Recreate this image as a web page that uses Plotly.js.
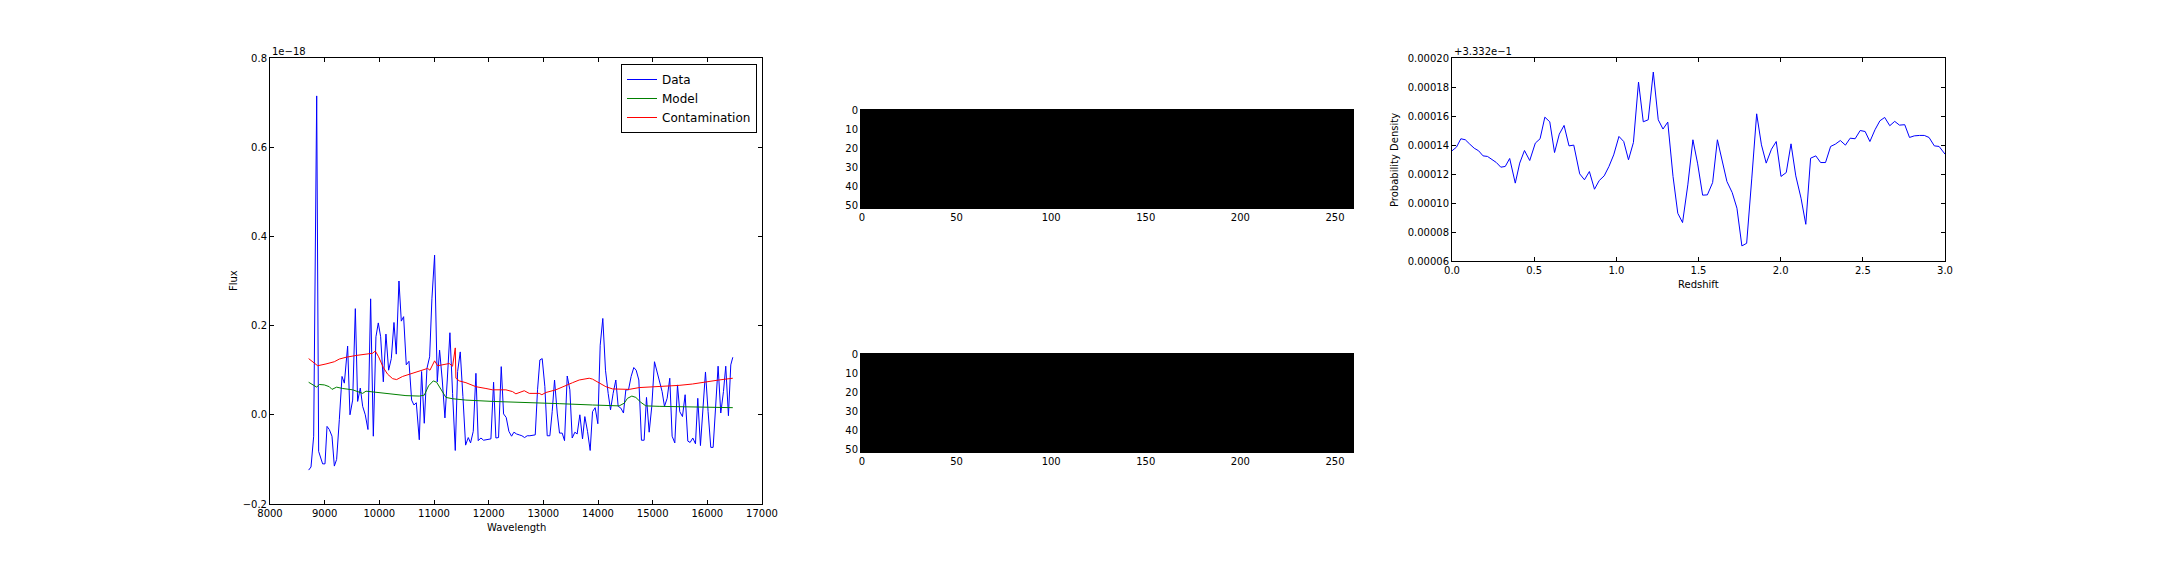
<!DOCTYPE html>
<html>
<head>
<meta charset="utf-8">
<script src="https://cdn.plot.ly/plotly-3.0.1.min.js"></script>
<style>html,body{margin:0;padding:0;background:#fff;}#chart{width:2160px;height:576px;}</style>
</head>
<body>
<div id="chart"></div>
<script>
// ---- Left panel: spectrum (flux in units of 1e-18) ----
const dataWave = [8707,8750,8799,8854,8890,8939,8963,9006,9043,9085,9134,9177,9219,9268,9317,9360,9420,9463,9512,9561,9603,9652,9695,9743,9792,9841,9890,9938,9981,10024,10073,10121,10170,10219,10268,10310,10359,10402,10444,10493,10542,10591,10633,10676,10731,10773,10822,10871,10920,10962,11011,11060,11102,11151,11200,11243,11291,11340,11389,11432,11480,11529,11578,11627,11669,11718,11767,11809,11858,11907,11950,11998,12041,12090,12132,12181,12230,12273,12321,12370,12419,12462,12510,12559,12608,12657,12705,12754,12803,12852,12894,12937,12979,13028,13071,13120,13162,13205,13254,13296,13345,13388,13437,13485,13528,13577,13619,13668,13717,13759,13808,13857,13900,13948,13997,14040,14088,14137,14186,14229,14277,14326,14369,14418,14466,14509,14558,14606,14655,14698,14747,14795,14844,14887,14936,14984,15033,15076,15124,15173,15216,15265,15313,15356,15405,15454,15496,15545,15594,15643,15685,15734,15783,15825,15874,15923,15966,16014,16063,16106,16155,16197,16246,16295,16337,16386,16429,16466];
const dataFlux = [-0.124,-0.117,-0.048,0.715,-0.082,-0.100,-0.110,-0.110,-0.026,-0.033,-0.048,-0.115,-0.100,-0.011,0.086,0.071,0.154,0.000,0.033,0.238,0.030,0.060,0.019,0.000,-0.033,0.260,-0.048,0.175,0.206,0.175,0.074,0.181,0.100,0.126,0.207,0.136,0.300,0.210,0.220,0.112,0.120,0.033,0.022,0.027,-0.056,0.097,-0.019,0.104,0.130,0.260,0.358,0.074,0.145,0.078,-0.007,0.078,0.184,0.048,-0.080,0.097,0.141,0.041,-0.068,-0.051,-0.063,-0.037,0.093,-0.058,-0.052,-0.057,-0.056,-0.056,-0.054,0.073,-0.052,-0.051,0.108,0.002,-0.006,-0.037,-0.048,-0.039,-0.043,-0.045,-0.047,-0.051,-0.047,-0.047,-0.046,-0.045,0.056,0.123,0.126,0.063,-0.047,-0.047,0.007,0.078,0.004,-0.041,-0.041,-0.058,0.087,0.056,-0.052,-0.039,-0.043,0.000,-0.054,-0.004,-0.037,-0.080,0.007,0.016,-0.020,0.156,0.216,0.100,0.048,0.011,0.048,0.078,0.019,0.015,0.004,0.056,0.056,0.086,0.106,0.100,0.078,-0.057,-0.057,0.039,-0.039,0.019,0.119,0.100,0.078,0.052,0.019,0.037,0.082,-0.048,-0.063,0.067,0.007,-0.004,0.045,-0.059,-0.062,-0.052,-0.065,0.037,-0.069,0.020,0.096,0.007,-0.073,-0.073,0.026,0.109,0.004,0.052,0.109,-0.002,0.112,0.129];

const modelWave = [8707,8780,8854,8902,8994,9085,9134,9219,9329,9512,9634,9695,9756,10000,10243,10487,10731,10822,10901,10987,11048,11127,11218,11340,11584,12071,12681,13290,13900,14387,14479,14540,14619,14692,14783,14875,15118,15727,16466];
const modelFlux = [0.073,0.068,0.062,0.068,0.067,0.063,0.057,0.062,0.059,0.056,0.050,0.048,0.053,0.050,0.047,0.043,0.042,0.044,0.065,0.076,0.073,0.056,0.039,0.036,0.033,0.030,0.028,0.025,0.022,0.020,0.026,0.037,0.042,0.039,0.028,0.020,0.019,0.017,0.016];

const contamWave = [8707,8780,8872,9024,9177,9268,9390,9573,9756,9878,9926,9987,10073,10152,10243,10316,10426,10548,10670,10792,10883,10926,11011,11066,11188,11279,11340,11389,11401,11462,11584,11767,11950,12071,12315,12437,12498,12651,12742,12925,12973,13047,13229,13351,13534,13656,13839,13900,14022,14144,14266,14387,14570,14753,15118,15484,15727,15966,16210,16466];
const contamFlux = [0.126,0.119,0.110,0.114,0.119,0.125,0.129,0.133,0.136,0.138,0.143,0.130,0.106,0.091,0.081,0.079,0.086,0.091,0.095,0.100,0.104,0.100,0.121,0.110,0.113,0.115,0.109,0.150,0.082,0.076,0.072,0.063,0.059,0.056,0.056,0.052,0.047,0.054,0.048,0.048,0.045,0.050,0.056,0.063,0.072,0.078,0.082,0.080,0.071,0.063,0.058,0.057,0.057,0.061,0.063,0.066,0.069,0.074,0.078,0.082];

// ---- Middle panels: 2D images (uniformly black) ----
const imgWidth = 260;
const imgHeight = 52;
const imgValue = 0;

// ---- Right panel: redshift probability density (offset +3.332e-1) ----
const pdfOffsetLabel = "+3.332e\u22121";
const redshift = [0.000,0.027,0.054,0.081,0.108,0.135,0.162,0.189,0.216,0.243,0.270,0.297,0.324,0.351,0.385,0.412,0.441,0.473,0.507,0.536,0.565,0.595,0.624,0.653,0.682,0.712,0.741,0.777,0.806,0.836,0.867,0.896,0.926,0.955,0.984,1.016,1.045,1.074,1.104,1.135,1.164,1.194,1.225,1.255,1.284,1.313,1.345,1.374,1.403,1.435,1.466,1.495,1.525,1.554,1.586,1.615,1.644,1.673,1.705,1.734,1.764,1.793,1.824,1.854,1.883,1.912,1.944,1.973,2.002,2.034,2.063,2.092,2.124,2.153,2.182,2.214,2.243,2.273,2.304,2.333,2.363,2.394,2.423,2.453,2.484,2.514,2.543,2.574,2.604,2.633,2.664,2.694,2.723,2.755,2.784,2.813,2.845,2.874,2.903,2.935,2.964,3.000];
const probDensity = [0.0001360,0.0001385,0.0001443,0.0001436,0.0001406,0.0001378,0.0001360,0.0001325,0.0001321,0.0001298,0.0001279,0.0001247,0.0001252,0.0001307,0.0001137,0.0001275,0.0001362,0.0001293,0.0001413,0.0001443,0.0001592,0.0001560,0.0001348,0.0001475,0.0001535,0.0001394,0.0001399,0.0001201,0.0001160,0.0001217,0.0001095,0.0001155,0.0001187,0.0001252,0.0001332,0.0001459,0.0001424,0.0001298,0.0001417,0.0001834,0.0001560,0.0001574,0.0001903,0.0001574,0.0001510,0.0001558,0.0001183,0.0000929,0.0000865,0.0001125,0.0001436,0.0001270,0.0001054,0.0001056,0.0001141,0.0001436,0.0001298,0.0001148,0.0001072,0.0000964,0.0000704,0.0000722,0.0001166,0.0001615,0.0001401,0.0001275,0.0001371,0.0001424,0.0001183,0.0001210,0.0001408,0.0001187,0.0001033,0.0000853,0.0001309,0.0001325,0.0001279,0.0001279,0.0001390,0.0001406,0.0001431,0.0001399,0.0001447,0.0001443,0.0001500,0.0001493,0.0001424,0.0001505,0.0001567,0.0001590,0.0001533,0.0001563,0.0001537,0.0001540,0.0001452,0.0001463,0.0001466,0.0001466,0.0001452,0.0001394,0.0001390,0.0001337];

const imgZ = Array.from({length: imgHeight}, () => new Array(imgWidth).fill(imgValue));

const FONT = {family: "DejaVu Sans, sans-serif", size: 10, color: "#000"};
const LEGEND_FONT = {family: "DejaVu Sans, sans-serif", size: 12, color: "#000"};

function axisStyle(extra) {
  return Object.assign({
    showline: true, linecolor: "#000", linewidth: 1, mirror: "ticks",
    ticks: "inside", ticklen: 4, tickwidth: 1, tickcolor: "#000",
    showgrid: false, zeroline: false, tickfont: FONT, fixedrange: true
  }, extra);
}

const traces = [
  {x: dataWave, y: dataFlux, type: "scatter", mode: "lines", name: "Data",
   line: {color: "#0000ff", width: 1}, xaxis: "x", yaxis: "y"},
  {x: modelWave, y: modelFlux, type: "scatter", mode: "lines", name: "Model",
   line: {color: "#008000", width: 1}, xaxis: "x", yaxis: "y"},
  {x: contamWave, y: contamFlux, type: "scatter", mode: "lines", name: "Contamination",
   line: {color: "#ff0000", width: 1}, xaxis: "x", yaxis: "y"},
  {z: imgZ, type: "heatmap", x0: 0, dx: 1, y0: 0, dy: 1, zmin: 0, zmax: 1,
   colorscale: [[0, "#000"], [1, "#000"]], showscale: false, hoverinfo: "skip",
   xaxis: "x2", yaxis: "y2", showlegend: false},
  {z: imgZ, type: "heatmap", x0: 0, dx: 1, y0: 0, dy: 1, zmin: 0, zmax: 1,
   colorscale: [[0, "#000"], [1, "#000"]], showscale: false, hoverinfo: "skip",
   xaxis: "x3", yaxis: "y3", showlegend: false},
  {x: redshift, y: probDensity, type: "scatter", mode: "lines", showlegend: false,
   line: {color: "#0000ff", width: 1}, xaxis: "x4", yaxis: "y4"}
];

const H = 576, W = 2160;
const px = v => v / W, py = v => (H - v) / H;

const layout = {
  width: W, height: H,
  margin: {l: 0, r: 0, t: 0, b: 0},
  paper_bgcolor: "#fff", plot_bgcolor: "#fff",
  font: FONT,
  showlegend: true,
  legend: {x: px(757), xanchor: "right", y: py(64), yanchor: "top",
           bordercolor: "#000", borderwidth: 1, bgcolor: "#fff", font: LEGEND_FONT,
           tracegroupgap: 0},
  xaxis: axisStyle({domain: [px(270), px(762)], range: [8000, 17000], dtick: 1000, tick0: 8000, tickformat: "d", anchor: "y"}),
  yaxis: axisStyle({domain: [py(504), py(58)], range: [-0.2, 0.8], dtick: 0.2, tick0: -0.2, tickformat: ".1f", anchor: "x"}),
  xaxis2: axisStyle({domain: [px(861), px(1353)], range: [-0.5, imgWidth - 0.5], tickvals: [0, 50, 100, 150, 200, 250], anchor: "y2"}),
  yaxis2: axisStyle({domain: [py(208), py(110)], range: [imgHeight - 0.5, -0.5], tickvals: [0, 10, 20, 30, 40, 50], anchor: "x2"}),
  xaxis3: axisStyle({domain: [px(861), px(1353)], range: [-0.5, imgWidth - 0.5], tickvals: [0, 50, 100, 150, 200, 250], anchor: "y3"}),
  yaxis3: axisStyle({domain: [py(452), py(354)], range: [imgHeight - 0.5, -0.5], tickvals: [0, 10, 20, 30, 40, 50], anchor: "x3"}),
  xaxis4: axisStyle({domain: [px(1452), px(1945)], range: [0, 3], dtick: 0.5, tick0: 0, tickformat: ".1f", anchor: "y4"}),
  yaxis4: axisStyle({domain: [py(261), py(58)], range: [0.00006, 0.0002], dtick: 0.00002, tick0: 0.00006, tickformat: ".5f", anchor: "x4"}),
  annotations: [
    {text: "1e\u221218", x: px(270), y: py(58), xref: "paper", yref: "paper", xanchor: "left", yanchor: "bottom", showarrow: false, font: FONT, yshift: -1},
    {text: pdfOffsetLabel, x: px(1452), y: py(58), xref: "paper", yref: "paper", xanchor: "left", yanchor: "bottom", showarrow: false, font: FONT, yshift: -1},
    {text: "Flux", x: px(233), y: py(281), xref: "paper", yref: "paper", xanchor: "center", yanchor: "middle", textangle: -90, showarrow: false, font: FONT},
    {text: "Wavelength", x: px(516), y: py(527), xref: "paper", yref: "paper", xanchor: "center", yanchor: "middle", showarrow: false, font: FONT},
    {text: "Redshift", x: px(1698), y: py(284), xref: "paper", yref: "paper", xanchor: "center", yanchor: "middle", showarrow: false, font: FONT},
    {text: "Probability Density", x: px(1394), y: py(160), xref: "paper", yref: "paper", xanchor: "center", yanchor: "middle", textangle: -90, showarrow: false, font: FONT}
  ]
};

Plotly.newPlot("chart", traces, layout, {staticPlot: true, displayModeBar: false});
</script>
</body>
</html>
